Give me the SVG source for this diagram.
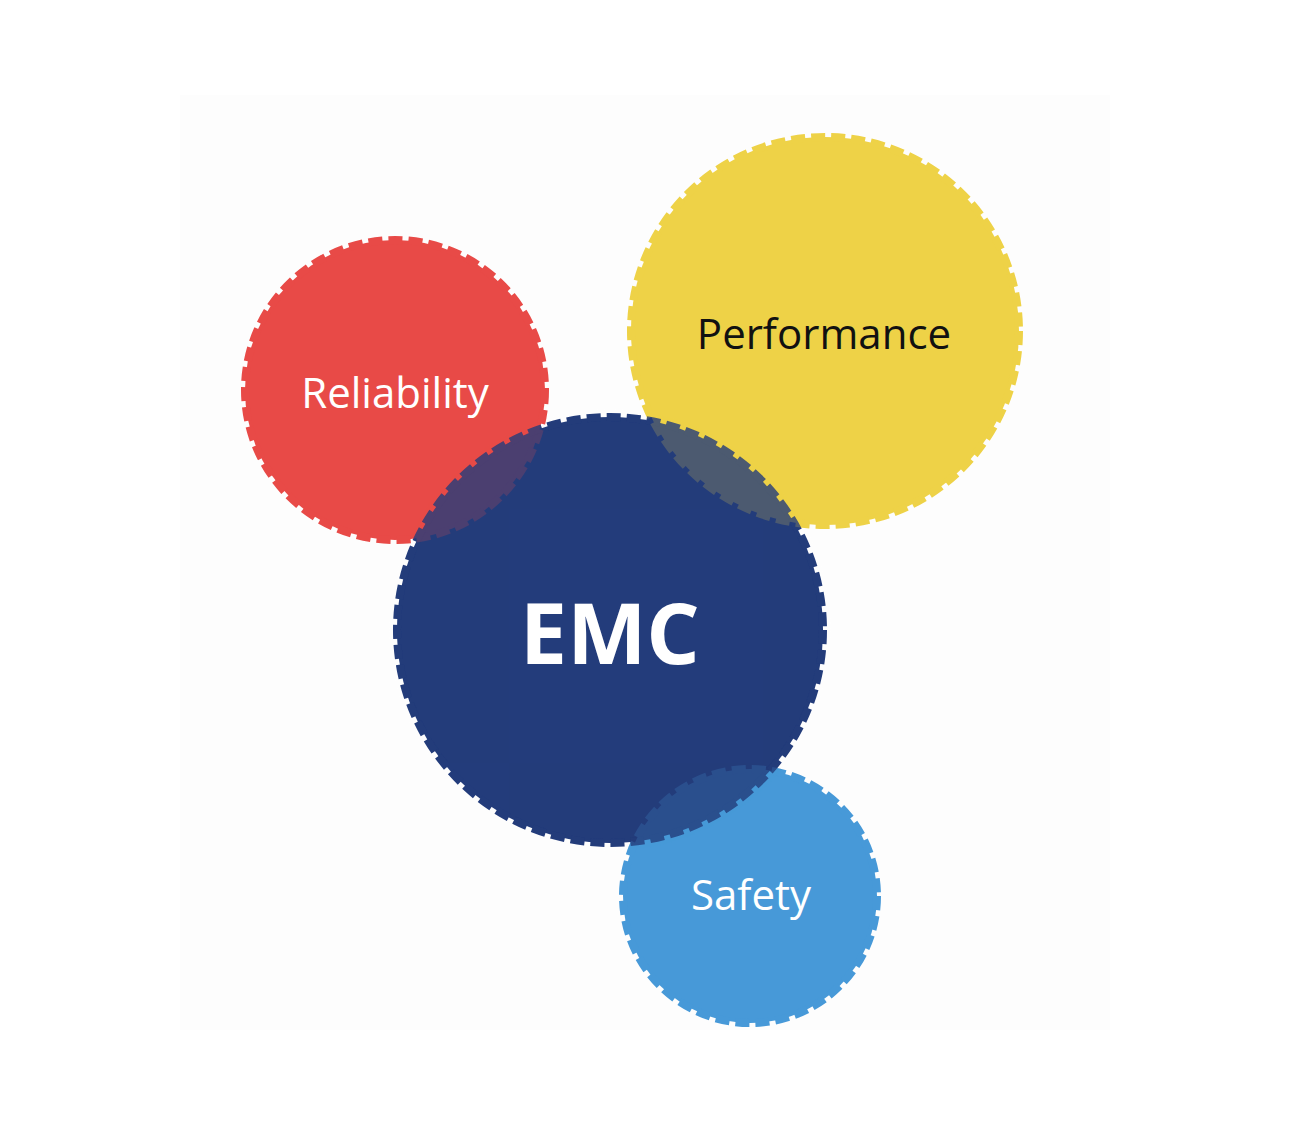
<svg xmlns="http://www.w3.org/2000/svg" width="1293" height="1127" viewBox="0 0 1293 1127">
<style>
.c{stroke-width:8;stroke-dasharray:14 6}
.t{font-family:"Open Sans","Noto Sans",sans-serif;text-anchor:middle}
</style>
<defs>
<clipPath id="emcClip"><circle cx="610" cy="630" r="221"/></clipPath>
</defs>
<rect width="1293" height="1127" fill="#ffffff"/>
<rect x="180" y="95" width="930" height="935" fill="#fdfdfd"/>
<g id="reliability"><circle class="c" cx="395" cy="390" r="150" fill="#e84a47" stroke="#e84a47"/></g>
<g id="performance"><circle class="c" cx="825" cy="331" r="194" fill="#eed247" stroke="#eed247"/></g>
<g id="safety"><circle class="c" cx="750" cy="896" r="127" fill="#4799d8" stroke="#4799d8"/></g>
<g id="emc"><circle class="c" cx="610" cy="630" r="213" fill="#233c7b" stroke="#233c7b"/></g>
<g id="overlaps" clip-path="url(#emcClip)" opacity="0.2">
<circle class="c" cx="395" cy="390" r="150" fill="#e84a47" stroke="#e84a47"/>
<circle class="c" cx="825" cy="331" r="194" fill="#eed247" stroke="#eed247"/>
<circle class="c" cx="750" cy="896" r="127" fill="#4799d8" stroke="#4799d8"/>
</g>
<g id="labels">
<text class="t" x="395" y="408" font-size="42" fill="#ffffff">Reliability</text>
<text class="t" x="824" y="349" font-size="42" fill="#111111">Performance</text>
<text class="t" x="610" y="664" font-size="84" font-weight="bold" fill="#ffffff">EMC</text>
<text class="t" x="751" y="910" font-size="42" fill="#ffffff">Safety</text>
</g>
<g id="connectors"/>
</svg>
